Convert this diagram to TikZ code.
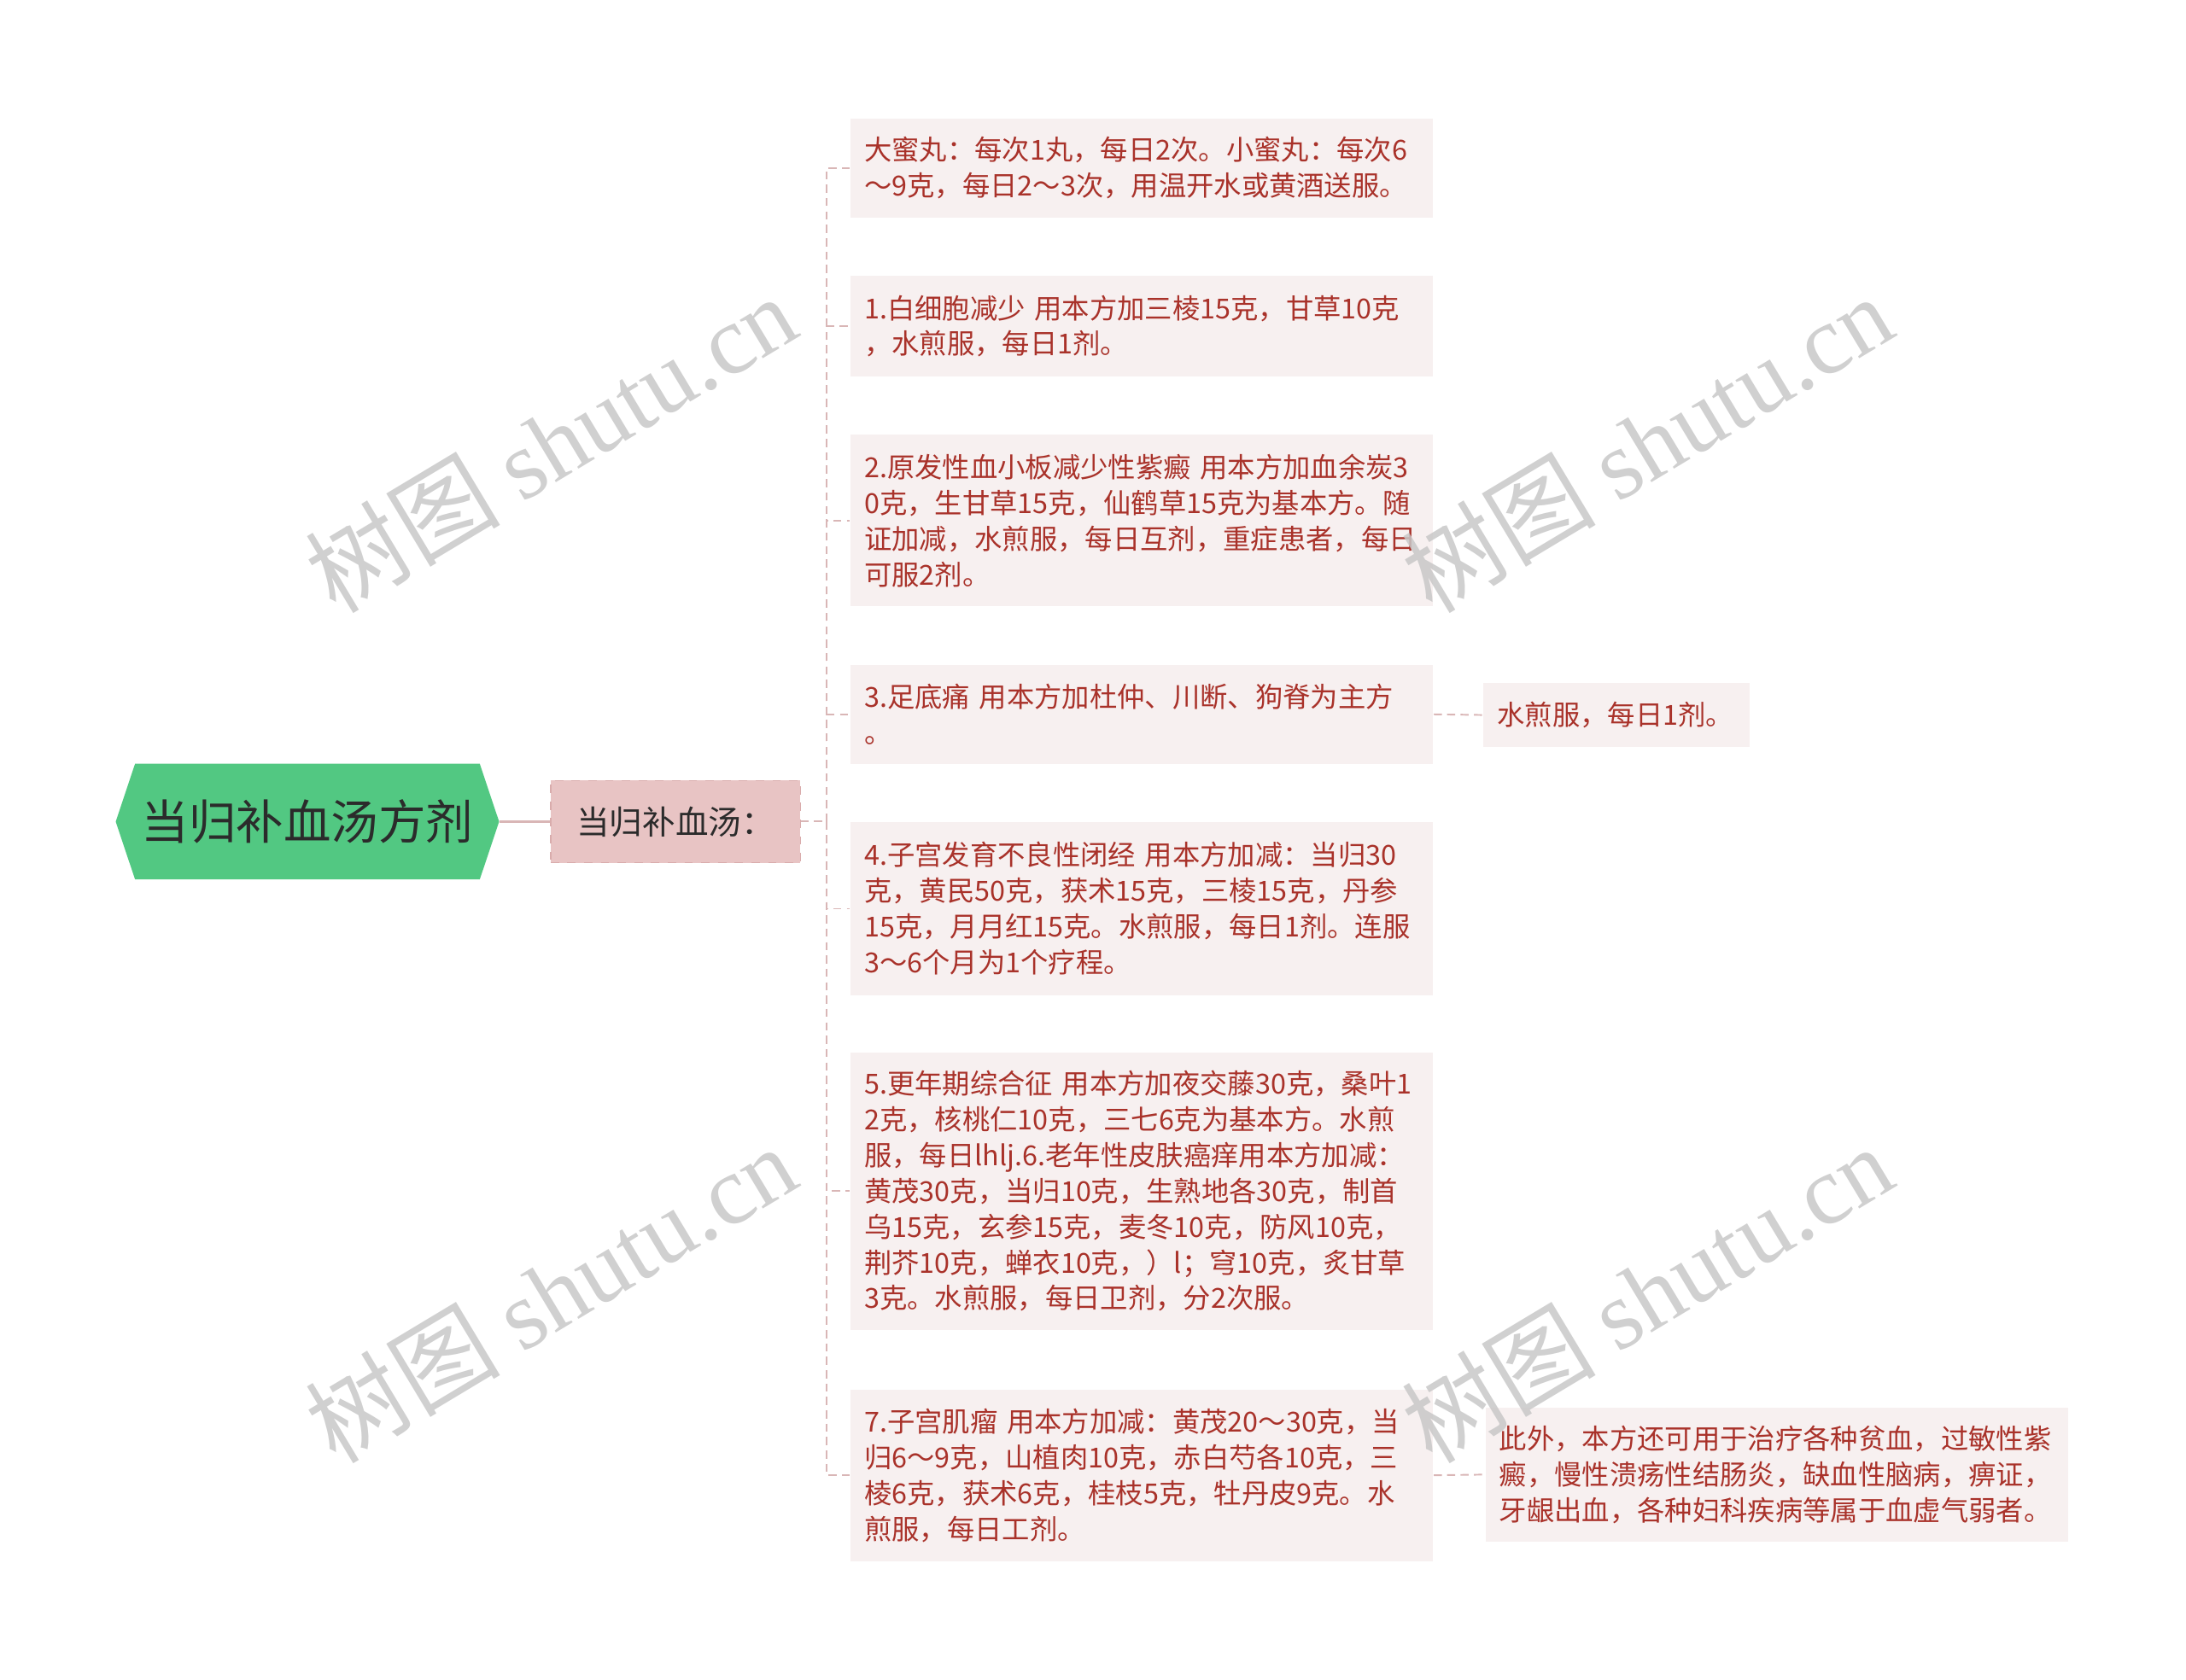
\documentclass[tikz,border=0pt]{standalone}
\usepackage{fontspec}
\setmainfont{Noto Sans CJK SC}
\newfontfamily\wmserif{Liberation Serif}
\newfontfamily\wmcjk{Noto Sans CJK SC}
\usetikzlibrary{shapes.symbols}
\definecolor{rootgreen}{HTML}{52C882}
\definecolor{rootink}{HTML}{2B2B2B}
\definecolor{subfill}{HTML}{E8C4C4}
\definecolor{subline}{HTML}{D9ACAC}
\definecolor{leaffill}{HTML}{F7F0F0}
\definecolor{leafink}{HTML}{A9322A}
\definecolor{linkpink}{HTML}{D9B6B6}
\definecolor{wmgray}{HTML}{C8C8C8}

\begin{document}
\begin{tikzpicture}[x=0.5pt, y=-0.5pt,
    rootnode/.style={signal, signal to=west and east, signal pointer angle=143, fill=rootgreen, text=rootink, font=\fontsize{17pt}{20pt}\selectfont, minimum width=137.5pt, minimum height=41.5pt, inner sep=0pt},
    subnode/.style={draw=subline, dashed, fill=subfill, text=rootink, font=\fontsize{11.8pt}{14pt}\selectfont, minimum width=89.5pt, minimum height=29.5pt, inner sep=0pt},
    leafnode/.style={fill=leaffill, text=leafink, font=\fontsize{9.9pt}{12.85pt}\selectfont, text width=199pt, align=left, inner xsep=5pt, inner ysep=0pt},
    link/.style={draw=linkpink, line width=0.6pt, dash pattern=on 2.9pt off 1.9pt},
    wmark/.style={text=wmgray, opacity=0.85, rotate=31, font=\fontsize{35pt}{38pt}\selectfont}]

    \useasboundingbox (0,0) rectangle (1568,1205);
    \fill[white] (0,0) rectangle (1568,1205);

    \node[rootnode] (root) at (220.5,589.5) {当归补血汤方剂};
    \node[subnode] (bxt) at (484.5,589.5) {当归补血汤：};
    \coordinate (trunk) at (593,589.5);

    \node[leafnode, minimum height=35.5pt] (dose) at (819,120.5) {大蜜丸：每次1丸，每日2次。小蜜丸：每次6\\～9克，每日2～3次，用温开水或黄酒送服。};
    \node[leafnode, minimum height=36pt] (use1) at (819,234) {1.白细胞减少 用本方加三棱15克，甘草10克\\，水煎服，每日1剂。};
    \node[leafnode, minimum height=61.5pt] (use2) at (819,373.5) {2.原发性血小板减少性紫癜 用本方加血余炭3\\0克，生甘草15克，仙鹤草15克为基本方。随\\证加减，水煎服，每日互剂，重症患者，每日\\可服2剂。};
    \node[leafnode, minimum height=35.5pt] (use3) at (819,512.5) {3.足底痛 用本方加杜仲、川断、狗脊为主方\\。};
    \node[leafnode, minimum height=62pt] (use4) at (819,652) {4.子宫发育不良性闭经 用本方加减：当归30\\克，黄民50克，获术15克，三棱15克，丹参\\15克，月月红15克。水煎服，每日1剂。连服\\3～6个月为1个疗程。};
    \node[leafnode, minimum height=99.5pt] (use5) at (819,854.5) {5.更年期综合征 用本方加夜交藤30克，桑叶1\\2克，核桃仁10克，三七6克为基本方。水煎\\服，每日lhlj.6.老年性皮肤癌痒用本方加减：\\黄茂30克，当归10克，生熟地各30克，制首\\乌15克，玄参15克，麦冬10克，防风10克，\\荆芥10克，蝉衣10克，）l；穹10克，炙甘草\\3克。水煎服，每日卫剂，分2次服。};
    \node[leafnode, minimum height=61.5pt] (use7) at (819,1058.5) {7.子宫肌瘤 用本方加减：黄茂20～30克，当\\归6～9克，山植肉10克，赤白芍各10克，三\\棱6克，获术6克，桂枝5克，牡丹皮9克。水\\煎服，每日工剂。};

    \node[leafnode, text width=85.5pt, minimum height=23pt] (fry) at (1159.5,513) {水煎服，每日1剂。};
    \node[leafnode, minimum height=48pt] (also) at (1274.5,1058) {此外，本方还可用于治疗各种贫血，过敏性紫\\癜，慢性溃疡性结肠炎，缺血性脑病，痹证，\\牙龈出血，各种妇科疾病等属于血虚气弱者。};

    \draw[linkpink, line width=0.9pt] (root.east) -- (bxt.west);
    \draw[link] (bxt.east) -- (trunk);
    \foreach \leaf in {dose,use1,use2,use3,use4,use5,use7}
        \draw[link] (trunk) |- (\leaf.west);
    \draw[link] (use3.east) -- (fry.west);
    \draw[link] (use7.east) -- (also.west);

    %\foreach \i in {...} watermarks
    \node[wmark] (wm1) at (395,318) {{\wmcjk 树图} {\wmserif shutu.cn}};
    \node[wmark] (wm2) at (1181,318) {{\wmcjk 树图} {\wmserif shutu.cn}};
    \node[wmark] (wm3) at (395,928) {{\wmcjk 树图} {\wmserif shutu.cn}};
    \node[wmark] (wm4) at (1181,928) {{\wmcjk 树图} {\wmserif shutu.cn}};

\end{tikzpicture}
\end{document}
